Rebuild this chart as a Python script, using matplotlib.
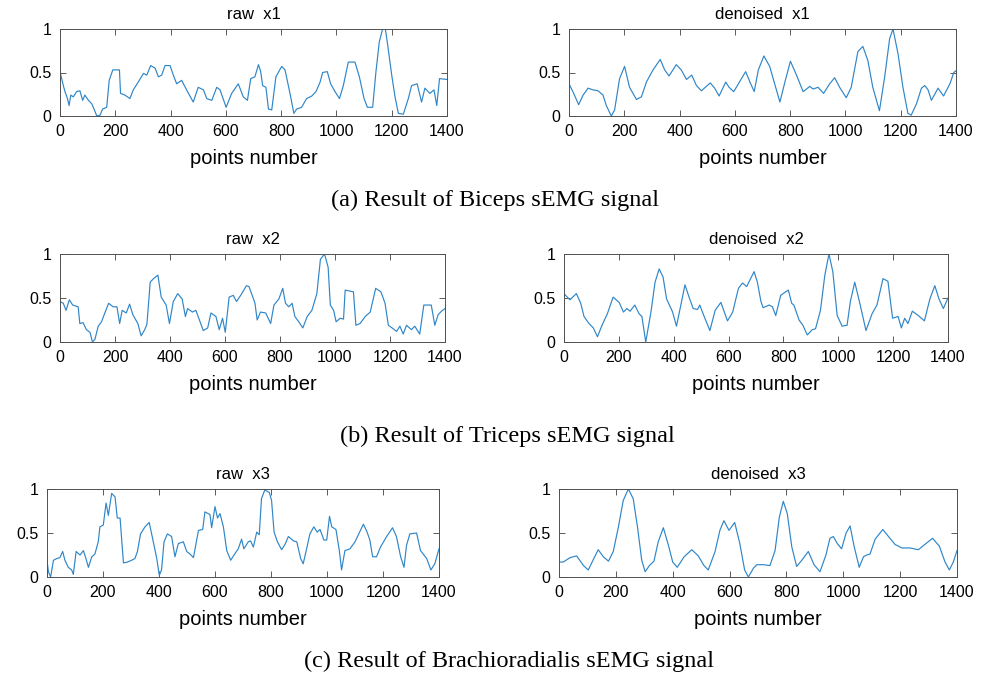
import numpy as np
import matplotlib.pyplot as plt

plt.rcParams['font.family'] = 'Liberation Sans'

# sample index / normalised amplitude, biceps
raw_x1_idx = [0, 12, 18, 27, 33, 39, 48, 60, 72, 82,
              90, 103, 115, 127, 133, 145, 154, 169, 178, 191,
              215, 219, 235, 253, 265, 283, 302, 314, 328, 344,
              356, 368, 380, 398, 410, 422, 440, 458, 482, 500,
              519, 531, 549, 567, 579, 601, 621, 645, 663, 678,
              690, 705, 718, 726, 733, 745, 754, 766, 781, 802,
              814, 832, 846, 856, 874, 892, 911, 926, 941, 950,
              967, 979, 995, 1011, 1025, 1043, 1067, 1083, 1100, 1112,
              1131, 1143, 1155, 1167, 1177, 1184, 1200, 1212, 1224, 1242,
              1260, 1272, 1292, 1308, 1320, 1338, 1353, 1363, 1373, 1400]
raw_x1 = [0.51, 0.35, 0.28, 0.20, 0.12, 0.24, 0.22, 0.28, 0.29, 0.18,
          0.24, 0.18, 0.14, 0.05, 0.00, 0.01, 0.08, 0.10, 0.41, 0.53,
          0.53, 0.26, 0.24, 0.20, 0.30, 0.39, 0.49, 0.47, 0.58, 0.55,
          0.45, 0.47, 0.58, 0.58, 0.47, 0.37, 0.41, 0.30, 0.16, 0.33,
          0.30, 0.20, 0.18, 0.33, 0.30, 0.10, 0.26, 0.37, 0.22, 0.18,
          0.43, 0.45, 0.59, 0.51, 0.35, 0.33, 0.08, 0.07, 0.45, 0.57,
          0.53, 0.26, 0.03, 0.08, 0.10, 0.20, 0.23, 0.28, 0.39, 0.50,
          0.51, 0.37, 0.28, 0.20, 0.35, 0.62, 0.62, 0.45, 0.20, 0.10,
          0.10, 0.51, 0.85, 1.00, 1.00, 0.85, 0.47, 0.22, 0.03, 0.02,
          0.20, 0.35, 0.37, 0.16, 0.32, 0.26, 0.30, 0.12, 0.43, 0.42]

den_x1_idx = [0, 14, 35, 51, 69, 87, 105, 123, 135, 153,
              165, 183, 201, 219, 244, 262, 280, 304, 330, 346,
              362, 388, 406, 425, 444, 461, 479, 511, 527, 543,
              567, 579, 596, 639, 656, 670, 685, 705, 726, 744,
              763, 781, 801, 823, 847, 871, 883, 901, 921, 943,
              961, 979, 1003, 1021, 1045, 1063, 1081, 1099, 1123, 1142,
              1160, 1172, 1190, 1208, 1226, 1238, 1257, 1275, 1287, 1299,
              1311, 1335, 1355, 1378, 1392, 1400]
den_x1 = [0.37, 0.28, 0.13, 0.24, 0.32, 0.30, 0.29, 0.24, 0.12, 0.00,
          0.07, 0.43, 0.57, 0.33, 0.19, 0.22, 0.39, 0.53, 0.65, 0.53,
          0.46, 0.59, 0.53, 0.42, 0.47, 0.35, 0.29, 0.38, 0.32, 0.23,
          0.39, 0.33, 0.28, 0.51, 0.38, 0.28, 0.53, 0.69, 0.57, 0.37,
          0.16, 0.39, 0.63, 0.47, 0.28, 0.34, 0.31, 0.33, 0.26, 0.37,
          0.44, 0.33, 0.21, 0.33, 0.74, 0.80, 0.64, 0.33, 0.06, 0.45,
          0.89, 1.00, 0.72, 0.33, 0.03, 0.01, 0.14, 0.32, 0.35, 0.30,
          0.18, 0.32, 0.23, 0.37, 0.50, 0.52]

# triceps
raw_x2_idx = [0, 12, 22, 34, 46, 66, 72, 84, 96, 109,
              118, 127, 139, 151, 163, 177, 193, 207, 217, 226,
              241, 253, 265, 283, 295, 308, 316, 328, 340, 356,
              368, 386, 398, 412, 428, 444, 456, 464, 482, 494,
              507, 521, 537, 549, 567, 579, 591, 601, 615, 630,
              642, 657, 678, 687, 699, 709, 717, 729, 748, 766,
              778, 796, 810, 820, 832, 844, 854, 868, 883, 899,
              916, 934, 947, 962, 975, 983, 995, 1004, 1019, 1031,
              1037, 1067, 1076, 1091, 1110, 1128, 1148, 1167, 1182, 1194,
              1212, 1224, 1236, 1248, 1260, 1278, 1290, 1308, 1323, 1338,
              1350, 1363, 1375, 1387, 1400]
raw_x2 = [0.46, 0.44, 0.36, 0.48, 0.42, 0.40, 0.21, 0.22, 0.14, 0.11,
          0.00, 0.03, 0.18, 0.23, 0.33, 0.44, 0.40, 0.40, 0.21, 0.36,
          0.33, 0.43, 0.31, 0.21, 0.07, 0.14, 0.20, 0.68, 0.72, 0.76,
          0.51, 0.42, 0.21, 0.46, 0.55, 0.49, 0.29, 0.38, 0.34, 0.36,
          0.25, 0.13, 0.16, 0.33, 0.29, 0.14, 0.27, 0.11, 0.51, 0.53,
          0.46, 0.53, 0.64, 0.63, 0.53, 0.44, 0.25, 0.34, 0.33, 0.21,
          0.42, 0.49, 0.61, 0.44, 0.40, 0.44, 0.29, 0.23, 0.16, 0.29,
          0.36, 0.55, 0.94, 1.00, 0.85, 0.42, 0.36, 0.23, 0.27, 0.26,
          0.59, 0.57, 0.19, 0.21, 0.29, 0.34, 0.61, 0.57, 0.44, 0.19,
          0.15, 0.12, 0.18, 0.09, 0.19, 0.14, 0.18, 0.09, 0.42, 0.42,
          0.42, 0.19, 0.31, 0.35, 0.38]

den_x2_idx = [0, 12, 22, 45, 61, 73, 91, 107, 122, 140,
              158, 179, 201, 217, 229, 241, 258, 274, 284, 298,
              317, 332, 347, 361, 374, 396, 410, 426, 441, 456,
              471, 487, 495, 511, 532, 551, 572, 596, 615, 636,
              651, 666, 693, 705, 718, 726, 748, 760, 772, 790,
              808, 818, 830, 838, 857, 871, 887, 905, 917, 935,
              951, 966, 980, 996, 1014, 1032, 1044, 1060, 1077, 1101,
              1123, 1141, 1163, 1181, 1198, 1218, 1230, 1242, 1254, 1270,
              1292, 1314, 1334, 1352, 1367, 1383, 1400]
den_x2 = [0.55, 0.51, 0.48, 0.55, 0.44, 0.29, 0.21, 0.16, 0.06, 0.20,
          0.32, 0.51, 0.45, 0.34, 0.38, 0.35, 0.42, 0.32, 0.29, 0.00,
          0.34, 0.68, 0.83, 0.74, 0.49, 0.34, 0.18, 0.42, 0.65, 0.51,
          0.38, 0.37, 0.42, 0.29, 0.13, 0.36, 0.45, 0.24, 0.34, 0.61,
          0.67, 0.63, 0.80, 0.68, 0.46, 0.39, 0.42, 0.40, 0.30, 0.53,
          0.57, 0.59, 0.44, 0.42, 0.25, 0.19, 0.08, 0.14, 0.15, 0.36,
          0.76, 1.00, 0.80, 0.30, 0.18, 0.19, 0.46, 0.68, 0.46, 0.13,
          0.32, 0.42, 0.72, 0.69, 0.27, 0.29, 0.16, 0.27, 0.21, 0.35,
          0.30, 0.24, 0.49, 0.64, 0.49, 0.38, 0.50]

# brachioradialis
raw_x3_idx = [0, 5, 13, 23, 35, 46, 56, 64, 76, 88,
              94, 104, 118, 130, 139, 148, 160, 171, 183, 189,
              201, 211, 219, 231, 243, 251, 261, 273, 287, 302,
              314, 323, 334, 350, 365, 377, 392, 401, 409, 418,
              430, 445, 457, 469, 487, 499, 511, 523, 541, 556,
              564, 582, 588, 600, 609, 618, 630, 642, 656, 668,
              683, 695, 703, 719, 727, 737, 749, 758, 766, 778,
              794, 802, 811, 823, 838, 850, 862, 880, 892, 906,
              915, 925, 939, 953, 965, 975, 989, 999, 1009, 1017,
              1032, 1044, 1052, 1064, 1082, 1100, 1112, 1130, 1142, 1153,
              1163, 1177, 1191, 1213, 1234, 1248, 1263, 1275, 1284, 1296,
              1320, 1334, 1356, 1371, 1385, 1400]
raw_x3 = [0.19, 0.06, 0.00, 0.19, 0.21, 0.22, 0.29, 0.19, 0.11, 0.08,
          0.03, 0.29, 0.25, 0.30, 0.21, 0.11, 0.23, 0.26, 0.40, 0.57,
          0.59, 0.84, 0.70, 0.95, 0.91, 0.67, 0.67, 0.16, 0.17, 0.19,
          0.21, 0.29, 0.49, 0.57, 0.62, 0.44, 0.21, 0.02, 0.08, 0.40,
          0.49, 0.46, 0.23, 0.38, 0.40, 0.29, 0.26, 0.22, 0.53, 0.54,
          0.74, 0.71, 0.56, 0.80, 0.67, 0.72, 0.57, 0.30, 0.19, 0.25,
          0.32, 0.43, 0.32, 0.40, 0.41, 0.34, 0.51, 0.48, 0.89, 0.99,
          0.96, 0.87, 0.51, 0.40, 0.31, 0.37, 0.46, 0.41, 0.40, 0.21,
          0.15, 0.29, 0.49, 0.57, 0.51, 0.54, 0.42, 0.42, 0.69, 0.57,
          0.54, 0.30, 0.08, 0.30, 0.32, 0.40, 0.48, 0.60, 0.52, 0.42,
          0.23, 0.23, 0.34, 0.46, 0.56, 0.46, 0.23, 0.11, 0.36, 0.49,
          0.50, 0.30, 0.21, 0.08, 0.15, 0.32]

den_x3_idx = [0, 15, 39, 62, 86, 103, 121, 138, 156, 174,
              191, 209, 226, 244, 261, 276, 291, 303, 318, 334,
              349, 367, 385, 400, 416, 440, 467, 490, 510, 525,
              549, 566, 580, 598, 618, 636, 653, 666, 684, 696,
              719, 742, 760, 775, 789, 803, 819, 836, 854, 877,
              897, 918, 939, 953, 965, 979, 994, 1010, 1024, 1038,
              1056, 1071, 1082, 1094, 1112, 1139, 1159, 1182, 1206, 1235,
              1264, 1287, 1314, 1338, 1358, 1373, 1387, 1400]
den_x3 = [0.17, 0.17, 0.22, 0.24, 0.13, 0.08, 0.20, 0.31, 0.23, 0.18,
          0.29, 0.57, 0.87, 1.00, 0.89, 0.57, 0.19, 0.06, 0.13, 0.18,
          0.40, 0.56, 0.36, 0.17, 0.11, 0.23, 0.31, 0.24, 0.13, 0.08,
          0.29, 0.53, 0.64, 0.53, 0.62, 0.38, 0.08, 0.00, 0.10, 0.14,
          0.14, 0.13, 0.30, 0.68, 0.86, 0.72, 0.34, 0.12, 0.19, 0.29,
          0.14, 0.06, 0.25, 0.44, 0.46, 0.38, 0.32, 0.50, 0.58, 0.35,
          0.11, 0.23, 0.25, 0.26, 0.43, 0.54, 0.46, 0.37, 0.33, 0.33,
          0.31, 0.37, 0.44, 0.35, 0.17, 0.08, 0.17, 0.30]

captions = ['(a) Result of Biceps sEMG signal',
            '(b) Result of Triceps sEMG signal',
            '(c) Result of Brachioradialis sEMG signal']

W, H = 988, 674
fig = plt.figure(figsize=(W / 100, H / 100), dpi=100)


def make_axes(left, top, right, bottom):
    # pixel box -> figure fraction
    return fig.add_axes([left / W, 1 - bottom / H, (right - left) / W, (bottom - top) / H])


# (pixel box, title, x, y)
panels = [
    ((60, 29, 447, 116), 'raw  x1', raw_x1_idx, raw_x1),
    ((569, 29, 956, 116), 'denoised  x1', den_x1_idx, den_x1),
    ((60, 254, 445, 342), 'raw  x2', raw_x2_idx, raw_x2),
    ((564, 254, 948, 342), 'denoised  x2', den_x2_idx, den_x2),
    ((47, 489, 439, 577), 'raw  x3', raw_x3_idx, raw_x3),
    ((559, 489, 957, 577), 'denoised  x3', den_x3_idx, den_x3),
]

for box, title, xs, ys in panels:
    ax = make_axes(*box)
    ax.plot(xs, ys, color='#2f86c8', lw=0.85)
    ax.set_xlim(0, 1400)
    ax.set_ylim(0, 1)
    ax.set_xticks(np.arange(0, 1401, 200))
    ax.set_yticks([0, 0.5, 1])
    ax.set_yticklabels(['0', '0.5', '1'])
    ax.tick_params(direction='in', top=True, right=True, length=4, width=0.6,
                   color='#404040', labelsize=11.5, pad=6)
    for sp in ax.spines.values():
        sp.set_color('#505050')
        sp.set_linewidth(0.7)
    ax.set_title(title, fontsize=12, pad=7)
    ax.set_xlabel('points number', fontsize=14.5, labelpad=7)

# row captions
cap_y = [200, 436, 661]
cap_x = [495, 507, 509]
for cx, cy, txt in zip(cap_x, cap_y, captions):
    fig.text(cx / W, 1 - cy / H, txt, ha='center', va='center',
             family='Liberation Serif', fontsize=17.5)

fig.savefig('out.png', dpi=100)
